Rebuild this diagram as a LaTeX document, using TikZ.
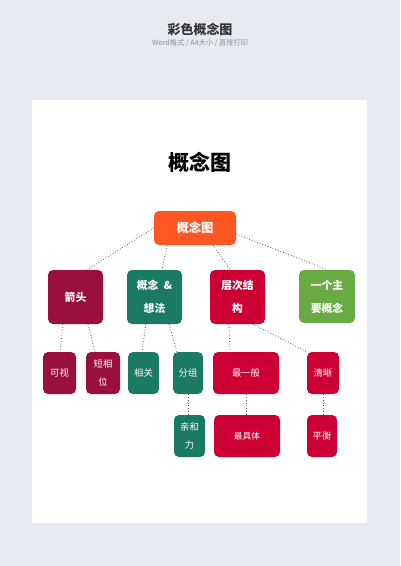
\documentclass[tikz,border=0pt]{standalone}
\usepackage{fontspec}
\usepackage{xcolor}
\usepackage{tikz}
\newfontfamily\cjk{Noto Sans CJK SC}
\definecolor{bgpage}{HTML}{E7EAF0}
\definecolor{titlegray}{HTML}{333333}
\definecolor{subgray}{HTML}{8A8F99}
\definecolor{linkgray}{HTML}{555555}
\definecolor{orange}{HTML}{FF5722}
\definecolor{maroon}{HTML}{990F3D}
\definecolor{teal}{HTML}{1B7A62}
\definecolor{crimson}{HTML}{CC0033}
\definecolor{leaf}{HTML}{6AAA45}
\tikzset{
  box/.style={rounded corners=5pt, inner sep=0pt, text=white, align=center},
  rootbox/.style={box, fill=orange, minimum width=82pt, minimum height=34pt,
    font=\cjk\bfseries\fontsize{12.3}{14}\selectfont},
  lvltwo/.style={box, minimum width=55pt, minimum height=54pt,
    font=\cjk\bfseries\fontsize{10.8}{23}\selectfont},
  lvlthree/.style={box, minimum height=42pt,
    font=\cjk\fontsize{9.3}{18}\selectfont},
  link/.style={draw=linkgray, dotted, line width=0.8pt},
}
\begin{document}
\begin{tikzpicture}[x=1pt,y=-1pt]
  \useasboundingbox (0,0) rectangle (400,566);
  \fill[bgpage] (0,0) rectangle (400,566);
  \fill[white] (32,100) rectangle (367,523);
  \node[text=titlegray, font=\cjk\bfseries\fontsize{13}{15}\selectfont] (head) at (200,29) {彩色概念图};
  \node[text=subgray, font=\cjk\fontsize{7.2}{8}\selectfont] (subhead) at (200,43) {Word格式 / A4大小 / 直接打印};
  \node[text=black, font=\cjk\bfseries\fontsize{21}{24}\selectfont] (title) at (200,162) {概念图};
  % top
  \node[rootbox] (root) at (195,228) {概念图};
  % second row
  \node[lvltwo, fill=maroon] (arrow) at (75.5,297) {箭头};
  \node[lvltwo, fill=teal] (idea) at (154.5,297) {概念\enspace\&\\想法};
  \node[lvltwo, fill=crimson] (layer) at (237.5,297) {层次结\\构};
  \node[lvltwo, fill=leaf, minimum width=56pt, minimum height=53pt] (main) at (327,296.5) {一个主\\要概念};
  % third row
  \node[lvlthree, fill=maroon, minimum width=33pt] (visual) at (59.5,373) {可视};
  \node[lvlthree, fill=maroon, minimum width=34pt] (short) at (103,373) {短相\\位};
  \node[lvlthree, fill=teal, minimum width=31pt] (rel) at (143.5,373) {相关};
  \node[lvlthree, fill=teal, minimum width=30pt] (group) at (188,373) {分组};
  \node[lvlthree, fill=crimson, minimum width=66pt] (general) at (246,373) {最一般};
  \node[lvlthree, fill=crimson, minimum width=32pt] (clear) at (323,373) {清晰};
  % fourth row
  \node[lvlthree, fill=teal, minimum width=31pt] (affinity) at (189.5,436) {亲和\\力};
  \node[lvlthree, fill=crimson, minimum width=66pt, font=\cjk\fontsize{8.7}{18}\selectfont] (concrete) at (247,436) {最具体};
  \node[lvlthree, fill=crimson, minimum width=30pt] (balance) at (322,436) {平衡};
  % links
  \draw[link] (root.west) -- ([xshift=11.5pt]arrow.north);
  \draw[link] ([xshift=-28pt]root.south) -- ([xshift=7.5pt]idea.north);
  \draw[link] ([xshift=18pt]root.south) -- ([xshift=-7.5pt]layer.north);
  \draw[link] ([yshift=-6pt]root.east) -- (main.north);
  \draw[link] ([xshift=-12.5pt]arrow.south) -- ([xshift=0.5pt]visual.north);
  \draw[link] ([xshift=12.5pt]arrow.south) -- ([xshift=-8pt]short.north);
  \draw[link] ([xshift=-8.5pt]idea.south) -- ([xshift=-1.5pt]rel.north);
  \draw[link] ([xshift=14.5pt]idea.south) -- ([xshift=-11pt]group.north);
  \draw[link] ([xshift=-8.5pt]layer.south) -- ([xshift=-16pt]general.north);
  \draw[link] ([xshift=15.5pt]layer.south) -- (clear.north west);
  \draw[link] (group.south) -- (group.south |- affinity.north);
  \draw[link] (general.south) -- (general.south |- concrete.north);
  \draw[link] (clear.south) -- (clear.south |- balance.north);
\end{tikzpicture}
\end{document}
